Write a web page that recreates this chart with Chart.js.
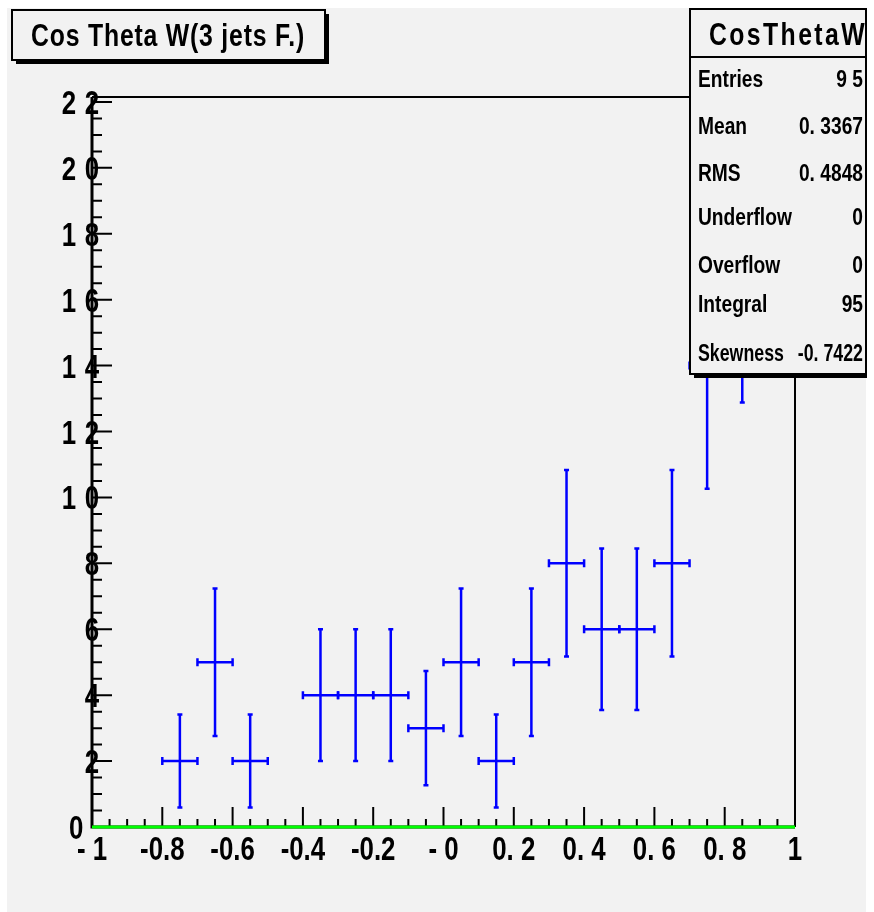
<!DOCTYPE html>
<html>
<head>
<meta charset="utf-8">
<script src="https://cdn.jsdelivr.net/npm/chart.js@4.4.1/dist/chart.umd.min.js"></script>
<style>
  html, body { margin: 0; padding: 0; background: #ffffff; }
  #wrap { width: 874px; height: 912px; }
</style>
</head>
<body>
<div id="wrap"><canvas id="cos-theta-chart" width="874" height="912"></canvas></div>
<script>
// histogram CosThetaW, 20 bins of 0.1 over [-1, 1]; empty bins left out
const binCenters = [-0.75, -0.65, -0.55, -0.35, -0.25, -0.15, -0.05, 0.05, 0.15, 0.25, 0.35, 0.45, 0.55, 0.65, 0.75, 0.85];
const binCounts = [2, 5, 2, 4, 4, 4, 3, 5, 2, 5, 8, 6, 6, 8, 14, 17];
const binErrors = [1.41, 2.24, 1.41, 2.0, 2.0, 2.0, 1.73, 2.24, 1.41, 2.24, 2.83, 2.45, 2.45, 2.83, 3.74, 4.12];
const binHalfWidth = 0.05;

const xTickLabels = ["- 1", "-0.8", "-0.6", "-0.4", "-0.2", "- 0", "0. 2", "0. 4", "0. 6", "0. 8", "1"];
const yTickLabels = ["0  ", "2", "4", "6", "8", "1 0", "1 2", "1 4", "1 6", "1 8", "2 0", "2 2"];

const histTitle = "Cos Theta W(3 jets F.)";
const statsName = "CosThetaW";
const statsLabels = ["Entries", "Mean", "RMS", "Underflow", "Overflow", "Integral", "Skewness"];
const statsValues = ["9 5", "0. 3367", "0. 4848", "0", "0", "95", "-0. 7422"];

const FONT = '"Liberation Sans", Arial, sans-serif';
const PAD_BG = "#f2f2f2";

// bold text squeezed horizontally, like the ROOT Helvetica rendering
function squeezedText(ctx, text, x, y, size, align, sx, spacing) {
  ctx.save();
  ctx.font = "bold " + size + "px " + FONT;
  ctx.letterSpacing = (spacing || 0) + "px";
  ctx.textBaseline = "alphabetic";
  ctx.textAlign = "left";
  const w = ctx.measureText(text).width * sx;
  let left = x;
  if (align === "center") left = x - w / 2;
  if (align === "right") left = x - w;
  ctx.translate(left, y);
  ctx.scale(sx, 1);
  ctx.fillStyle = "#000000";
  ctx.fillText(text, 0, 0);
  ctx.restore();
}

const padPlugin = {
  id: "padFrame",
  beforeDraw(chart) {
    const ctx = chart.ctx;
    ctx.save();
    ctx.fillStyle = "#ffffff";
    ctx.fillRect(0, 0, chart.width, chart.height);
    ctx.fillStyle = PAD_BG;
    ctx.fillRect(7, 8, 859, chart.height - 8);
    ctx.restore();
  },
  beforeDatasetsDraw(chart) {
    const ctx = chart.ctx;
    const a = chart.chartArea;
    const xs = chart.scales.x;
    const ys = chart.scales.y;
    ctx.save();
    ctx.strokeStyle = "#000000";
    // top and right frame
    ctx.lineWidth = 2;
    ctx.beginPath();
    ctx.moveTo(a.left, a.top);
    ctx.lineTo(a.right, a.top);
    ctx.lineTo(a.right, a.bottom);
    ctx.stroke();
    // axis lines
    ctx.lineWidth = 3;
    ctx.beginPath();
    ctx.moveTo(a.left, a.top);
    ctx.lineTo(a.left, a.bottom);
    ctx.lineTo(a.right, a.bottom);
    ctx.stroke();
    // x ticks: major 0.2, minor 0.05
    ctx.lineWidth = 2;
    ctx.beginPath();
    for (let i = 0; i <= 40; i++) {
      const px = xs.getPixelForValue(-1 + i * 0.05);
      const len = i % 4 === 0 ? 20 : 8;
      ctx.moveTo(px, a.bottom);
      ctx.lineTo(px, a.bottom - len);
    }
    // y ticks: major 2, minor 0.5
    for (let i = 0; i * 0.5 <= ys.max; i++) {
      const py = ys.getPixelForValue(i * 0.5);
      const len = i % 4 === 0 ? 20 : 10;
      ctx.moveTo(a.left, py);
      ctx.lineTo(a.left + len, py);
    }
    ctx.stroke();
    ctx.restore();
  },
  afterDatasetsDraw(chart) {
    // error bars: bin width horizontally, +/- error vertically
    const ctx = chart.ctx;
    const xs = chart.scales.x;
    const ys = chart.scales.y;
    ctx.save();
    ctx.strokeStyle = "#0000ff";
    ctx.lineWidth = 2.5;
    binCenters.forEach((c, i) => {
      const n = binCounts[i];
      const e = binErrors[i];
      const x0 = xs.getPixelForValue(c - binHalfWidth);
      const x1 = xs.getPixelForValue(c + binHalfWidth);
      const xc = xs.getPixelForValue(c);
      const yc = ys.getPixelForValue(n);
      const yLo = ys.getPixelForValue(n - e);
      const yHi = ys.getPixelForValue(n + e);
      ctx.beginPath();
      ctx.moveTo(x0, yc);
      ctx.lineTo(x1, yc);
      ctx.moveTo(xc, yLo);
      ctx.lineTo(xc, yHi);
      // end caps
      ctx.moveTo(x0, yc - 4);
      ctx.lineTo(x0, yc + 4);
      ctx.moveTo(x1, yc - 4);
      ctx.lineTo(x1, yc + 4);
      ctx.moveTo(xc - 2.5, yLo);
      ctx.lineTo(xc + 2.5, yLo);
      ctx.moveTo(xc - 2.5, yHi);
      ctx.lineTo(xc + 2.5, yHi);
      ctx.stroke();
    });
    ctx.restore();
  },
  afterDraw(chart) {
    const ctx = chart.ctx;
    const a = chart.chartArea;
    const xs = chart.scales.x;
    const ys = chart.scales.y;

    // axis labels from the scale ticks
    xs.ticks.forEach((t, i) => {
      squeezedText(ctx, xTickLabels[i], xs.getPixelForValue(t.value), 860, 34, "center", 0.76);
    });
    ys.ticks.forEach((t, i) => {
      squeezedText(ctx, yTickLabels[i], a.left + 8, ys.getPixelForValue(t.value) + 12, 34, "right", 0.76, 1);
    });

    ctx.save();
    // title box
    ctx.fillStyle = "#000000";
    ctx.fillRect(16, 14, 313, 50);
    ctx.fillStyle = PAD_BG;
    ctx.fillRect(12, 10, 313, 50);
    ctx.strokeStyle = "#000000";
    ctx.lineWidth = 2;
    ctx.strokeRect(12, 10, 313, 50);
    ctx.restore();
    squeezedText(ctx, histTitle, 168, 46, 31, "center", 0.8, 1);

    // stats box, cut by the pad edge on the right
    ctx.save();
    ctx.beginPath();
    ctx.rect(0, 0, 867, chart.height);
    ctx.clip();
    ctx.fillStyle = "#000000";
    ctx.fillRect(694, 13, 180, 365);
    ctx.fillStyle = PAD_BG;
    ctx.fillRect(690, 9, 184, 365);
    ctx.strokeStyle = "#000000";
    ctx.lineWidth = 2;
    ctx.strokeRect(690, 9, 176, 365);
    ctx.beginPath();
    ctx.moveTo(690, 57);
    ctx.lineTo(866, 57);
    ctx.stroke();
    squeezedText(ctx, statsName, 709, 45, 31, "left", 0.8, 3);

    const rowY = [87, 134, 181, 225, 273, 312, 361];
    statsLabels.forEach((lab, i) => {
      squeezedText(ctx, lab, 698, rowY[i], 24, "left", i === 6 ? 0.74 : 0.8);
      squeezedText(ctx, statsValues[i], 863, rowY[i], 24, "right", i === 6 ? 0.74 : 0.8);
    });
    ctx.restore();
  }
};

const ctx = document.getElementById("cos-theta-chart").getContext("2d");
new Chart(ctx, {
  type: "scatter",
  data: {
    datasets: [
      {
        // histogram baseline
        label: "zero",
        data: [{ x: -1, y: 0 }, { x: 1, y: 0 }],
        showLine: true,
        borderColor: "#00ff00",
        borderWidth: 3,
        pointRadius: 0,
        clip: false,
      },
      {
        label: "CosThetaW",
        data: binCenters.map((c, i) => ({ x: c, y: binCounts[i] })),
        pointRadius: 1,
        pointBackgroundColor: "#000000",
        pointBorderWidth: 0,
      },
    ],
  },
  plugins: [padPlugin],
  options: {
    responsive: false,
    animation: false,
    events: [],
    layout: { padding: { top: 97, right: 79, left: 0, bottom: 0 } },
    plugins: {
      legend: { display: false },
      tooltip: { enabled: false },
    },
    scales: {
      x: {
        type: "linear",
        min: -1,
        max: 1,
        grid: { display: false, drawTicks: false },
        border: { display: false },
        ticks: { stepSize: 0.2, autoSkip: false, display: false },
        afterFit(scale) {
          scale.height = 85;
        },
      },
      y: {
        type: "linear",
        min: 0,
        max: 22.15,
        grid: { display: false, drawTicks: false },
        border: { display: false },
        ticks: { stepSize: 2, includeBounds: false, autoSkip: false, display: false },
        afterFit(scale) {
          scale.width = 92;
        },
      },
    },
  },
});
</script>
</body>
</html>
